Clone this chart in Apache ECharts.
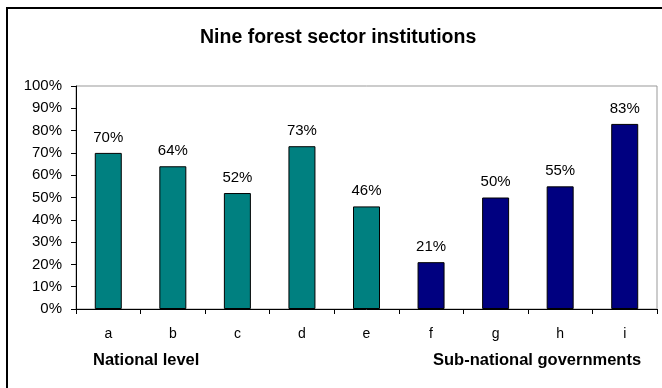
<!DOCTYPE html>
<html><head><meta charset="utf-8">
<script src="https://cdn.jsdelivr.net/npm/echarts@6/dist/echarts.min.js"></script>
<style>html,body{margin:0;padding:0;background:#fff}#c{width:662px;height:388px}</style>
</head><body><div id="c"></div>
<script>
const titleText = 'Nine forest sector institutions';
const categories = ['a','b','c','d','e','f','g','h','i'];
const values = [70,64,52,73,46,21,50,55,83];
const groups = ['national','national','national','national','national','sub','sub','sub','sub'];
const groupLabels = {national:'National level', sub:'Sub-national governments'};
const yTicks = [0,10,20,30,40,50,60,70,80,90,100];
const colors = {national:'#008080', sub:'#000080'};
const font = 'Liberation Sans, Arial, sans-serif';

const chart = echarts.init(document.getElementById('c'), null, {renderer:'canvas'});
chart.setOption({
  backgroundColor:'#fff',
  animation:false,
  title:{text:titleText,left:195,top:23,
    textStyle:{fontFamily:font,fontSize:19.5,fontWeight:'bold',color:'#000'}},
  grid:{left:76,right:5,top:86,bottom:79,show:true,borderColor:'#999',borderWidth:1,backgroundColor:'transparent'},
  xAxis:{type:'category',data:categories,
    axisLine:{lineStyle:{color:'#000',width:1}},
    axisTick:{show:true,length:5,alignWithLabel:false,lineStyle:{color:'#000'}},
    axisLabel:{fontFamily:font,fontSize:14,color:'#000',margin:18}},
  yAxis:{type:'value',min:yTicks[0],max:yTicks[yTicks.length-1],interval:10,
    axisLine:{show:true,lineStyle:{color:'#000',width:1}},
    axisTick:{show:true,length:5,inside:false,lineStyle:{color:'#000'}},
    splitLine:{show:false},
    axisLabel:{fontFamily:font,fontSize:15,color:'#000',margin:14,formatter:v=>v+'%'}},
  series:[{type:'bar',barWidth:27,
    data:values.map((v,i)=>({value:v,itemStyle:{color:colors[groups[i]],borderColor:'#000',borderWidth:1}})),
    label:{show:true,position:'top',distance:8,fontFamily:font,fontSize:15,color:'#000',formatter:p=>p.value+'%'}}],
  graphic:[
    {type:'rect',shape:{x:7,y:8,width:700,height:420},style:{fill:'none',stroke:'#000',lineWidth:2},silent:true},
    {type:'text',left:93,top:352,style:{text:groupLabels.national,font:'bold 16.5px '+font,fill:'#000'}},
    {type:'text',left:433,top:352,style:{text:groupLabels.sub,font:'bold 16.5px '+font,fill:'#000'}}
  ]
});
</script></body></html>
